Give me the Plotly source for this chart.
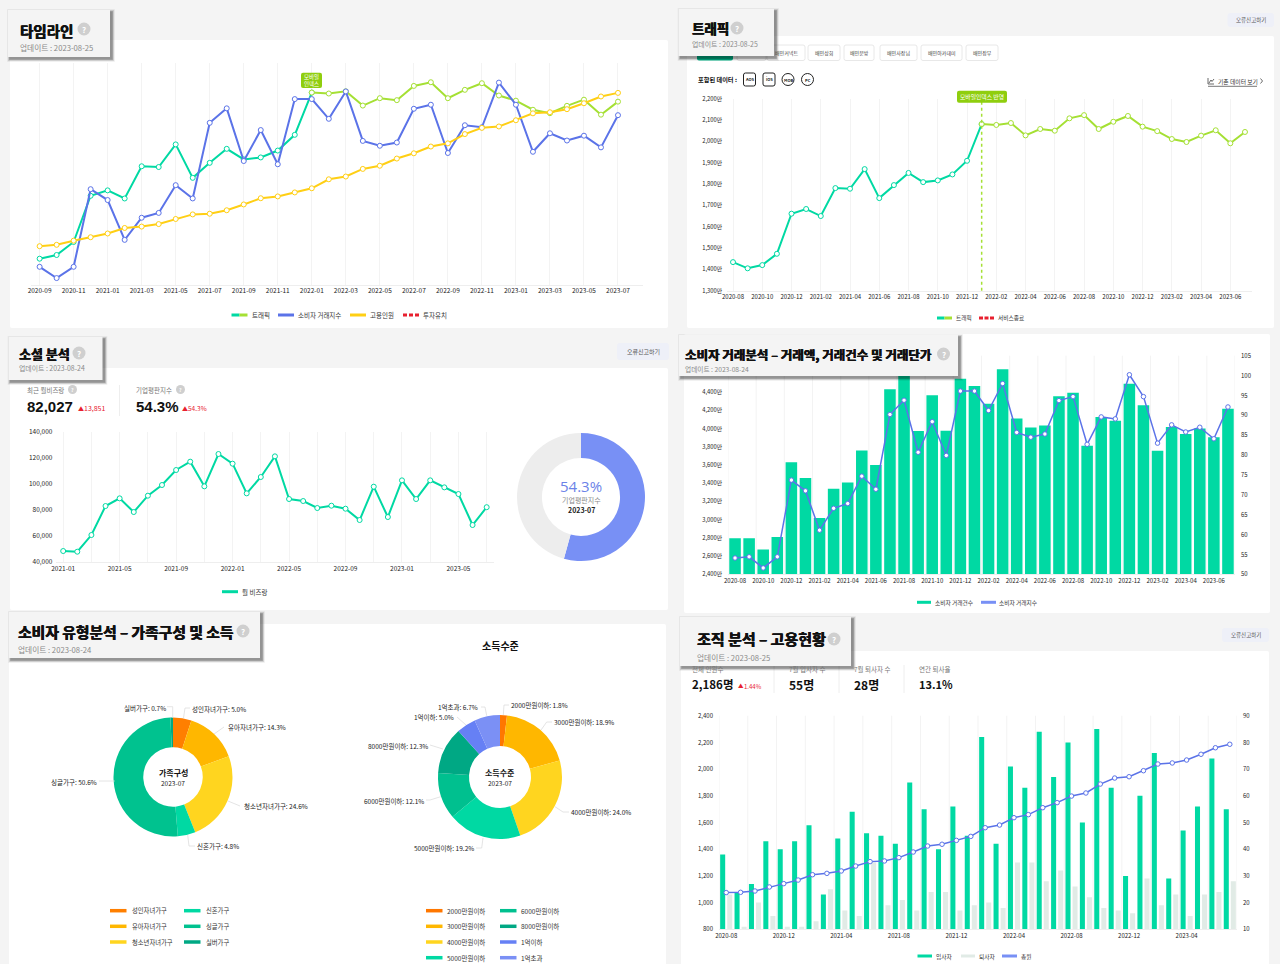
import plotly.graph_objects as go

# ---------- data ----------
months = ["2020-08","2020-09","2020-10","2020-11","2020-12","2021-01","2021-02","2021-03","2021-04","2021-05","2021-06","2021-07",
          "2021-08","2021-09","2021-10","2021-11","2021-12","2022-01","2022-02","2022-03","2022-04","2022-05","2022-06","2022-07",
          "2022-08","2022-09","2022-10","2022-11","2022-12","2023-01","2023-02","2023-03","2023-04","2023-05","2023-06","2023-07"]
traffic = [1434,1405,1420,1473,1661,1683,1650,1781,1778,1870,1734,1795,1852,1809,1817,1845,1909,2081,
           2077,2086,2028,2058,2050,2108,2123,2058,2092,2119,2069,2048,2011,1997,2027,2052,1991,2044]
tx_index = [54.1,54.4,51.6,54.4,73.7,71.0,61.1,66.6,67.8,74.7,71.4,90.2,93.8,80.7,88.4,79.9,96.1,96.1,
            91.2,98.0,85.7,84.5,85.3,93.7,94.7,82.7,89.6,89.1,100.2,94.7,83.0,87.6,85.8,87.0,84.1,92.1]
tx_count = [2795,2795,2671,2810,3629,3457,3018,3340,3409,3760,3599,4433,4605,3972,4367,3976,4546,4466,
            4272,4652,4111,4012,4034,4356,4393,3811,4126,4086,4491,4257,3756,4016,3939,4002,3906,4217]
headcount = [1075,1077,1087,1117,1142,1169,1209,1219,1237,1274,1307,1312,1337,1379,1424,1437,1466,1496,
             1561,1581,1636,1659,1711,1749,1798,1821,1888,1933,1943,1988,2038,2046,2068,2111,2160,2186]
hires = [38,24,27,43,40,43,49,23,44,54,46,45,42,65,55,40,56,45,82,42,71,63,84,67,80,50,85,63,30,60,76,29,47,56,74,55]
leavers = [23,11,20,15,11,11,13,25,17,15,35,19,21,17,24,24,17,19,20,18,35,35,28,32,26,22,18,17,16,29,19,23,15,23,24,28]
social_months = months[5:]
social = [48226,47712,60566,82931,88843,78303,90900,99126,110694,117120,98100,123033,115578,92699,105296,121234,
          88329,86787,81388,83188,80874,72134,97841,74447,102725,88329,102725,97326,92185,68278,82027]
reputation = [54.3, 45.7]
family_labels = ["성인자녀가구","유아자녀가구","청소년자녀가구","신혼가구","싱글가구","실버가구"]
family_values = [5.0,14.3,24.6,4.8,50.6,0.7]
income_labels = ["2000만원이하","3000만원이하","4000만원이하","5000만원이하","6000만원이하","8000만원이하","1억이하","1억초과"]
income_values = [1.8,18.9,24.0,19.2,12.1,12.3,5.0,6.7]

# ---------- styles ----------
W, H = 1280, 964
KR = "Noto Sans CJK KR"
BG = "#f4f4f4"
GREEN = "#00d9a3"; LIME = "#a5e034"; BLUE = "#5b73e8"; YELLOW = "#ffcf14"; RED = "#e8202f"
PERIWINKLE = "#7890f5"; GRID = "#f3f3f3"; LEAVE = "#e1ebe6"
family_colors = ["#ff7f00","#ffb700","#ffd51f","#00d9a3","#00c28f","#00a884"]
income_colors = ["#ff7700","#ffb700","#ffd51f","#00d9a3","#00c08f","#00a884","#6680f5","#7b90f5"]

fx = lambda p: p / W
fy = lambda p: 1 - p / H
shapes, ann, traces = [], [], []
layout_axes = {}

def rrect(x0, y0, x1, y1, fill, r=2, line=None, layer="below", lw=1):
    path = (f"M {fx(x0+r)} {fy(y0)} L {fx(x1-r)} {fy(y0)} Q {fx(x1)} {fy(y0)} {fx(x1)} {fy(y0+r)} "
            f"L {fx(x1)} {fy(y1-r)} Q {fx(x1)} {fy(y1)} {fx(x1-r)} {fy(y1)} "
            f"L {fx(x0+r)} {fy(y1)} Q {fx(x0)} {fy(y1)} {fx(x0)} {fy(y1-r)} "
            f"L {fx(x0)} {fy(y0+r)} Q {fx(x0)} {fy(y0)} {fx(x0+r)} {fy(y0)} Z")
    shapes.append(dict(type="path", xref="paper", yref="paper", path=path, fillcolor=fill, layer=layer,
                       line=dict(color=line or "rgba(0,0,0,0)", width=lw if line else 0)))

def rect(x0, y0, x1, y1, fill, layer="below"):
    shapes.append(dict(type="rect", xref="paper", yref="paper", x0=fx(x0), x1=fx(x1), y0=fy(y1), y1=fy(y0),
                       fillcolor=fill, line=dict(width=0), layer=layer))

def seg(pts, color, width=1, dash=None, layer="above"):
    path = "M " + " L ".join(f"{fx(a)} {fy(b)}" for a, b in pts)
    shapes.append(dict(type="path", xref="paper", yref="paper", path=path, layer=layer,
                       line=dict(color=color, width=width, dash=dash or "solid")))

def circle(cx, cy, r, fill, line=None, lw=1, layer="above"):
    shapes.append(dict(type="circle", xref="paper", yref="paper", x0=fx(cx-r), x1=fx(cx+r), y0=fy(cy+r), y1=fy(cy-r),
                       fillcolor=fill, line=dict(color=line or "rgba(0,0,0,0)", width=lw if line else 0), layer=layer))

def text(x, y, s, size=7, color="#333", bold=False, anchor="left", family=KR, shadow=None):
    t = f"<b>{s}</b>" if bold else s
    f = dict(family=family, size=size, color=color)
    if shadow:
        f["shadow"] = shadow
    ann.append(dict(xref="paper", yref="paper", x=fx(x), y=fy(y), text=t, showarrow=False, xanchor=anchor, yanchor="middle",
                    font=f, borderpad=0, borderwidth=0))

def legend_swatch(x0, x1, y, color, th=3):
    rect(x0, y - th/2, x1, y + th/2, color, layer="below")

def help_icon(cx, cy, r=7):
    circle(cx, cy, r, "#cfcfcf")
    text(cx, cy, "?", size=int(r*1.3), color="#ffffff", bold=True, anchor="center")

def header(x0, y0, x1, y1, title, date, tx, ty, dy, hx, hy, size=15, dsize=7.7):
    for d, a in ((6, 0.03), (5, 0.05), (4, 0.07), (3, 0.09), (2, 0.12), (1, 0.14)):
        rect(x0 + 2 - d/2, y0 + 2 - d/2, x1 + 2 + d/2, y1 + 2 + d/2, f"rgba(0,0,0,{a})", layer="above")
    rect(x0, y0, x1, y1, BG, layer="above")
    text(tx, ty, title, size=size, color="#111111", bold=True, shadow="0.4px 0 0 #111111, -0.3px 0 0 #111111")
    text(tx, dy, f"업데이트 : {date}", size=dsize, color="#8a8a8a")
    help_icon(hx, hy, 6.5)

def report_btn(x0, y0, x1, y1, size=5.5):
    rrect(x0, y0, x1, y1, "#eef0f8", r=3)
    text((x0+x1)/2, (y0+y1)/2, "오류신고하기", size=size, color="#555", anchor="center")

def x_axis(name, ynm, l, r, b, cats, tickcats, labels, rng, grid=True, size=6.5):
    layout_axes[name] = dict(type="category", categoryorder="array", categoryarray=cats, domain=[fx(l), fx(r)], anchor=ynm, automargin=False,
                             range=rng, tickmode="array", tickvals=tickcats, ticktext=labels, showgrid=grid, gridcolor=GRID, gridwidth=1,
                             showline=True, linecolor="#eeeeee", linewidth=1, ticks="", tickangle=0, zeroline=False,
                             tickfont=dict(family=KR, size=size, color="#222222"), fixedrange=True)

def y_axis(name, xnm, t, b, rng, vals=None, labels=None, side="left", overlay=None, visible=True, standoff=4, size=6.5):
    d = dict(domain=[fy(b), fy(t)], anchor=xnm, range=rng, side=side, showgrid=False, zeroline=False, showline=False, ticks="",
             fixedrange=True, visible=visible, automargin=False)
    if vals is not None:
        d.update(tickmode="array", tickvals=vals, ticktext=labels, ticklabelstandoff=standoff,
                 tickfont=dict(family=KR, size=size, color="#222222"))
    if overlay:
        d["overlaying"] = overlay
    layout_axes[name] = d

def line(x, y, color, xa, ya, width=2, ms=5):
    traces.append(go.Scatter(x=x, y=y, mode="lines+markers", xaxis=xa, yaxis=ya, showlegend=False, hoverinfo="skip",
                             line=dict(color=color, width=width),
                             marker=dict(size=ms, color="#ffffff", line=dict(color=color, width=1))))

def vgrid(xa, idxs, top, bottom):
    for i in idxs:
        shapes.append(dict(type="line", xref=xa, yref="paper", x0=i-0.5, x1=i-0.5, y0=fy(bottom), y1=fy(top),
                           line=dict(color=GRID, width=1), layer="below"))

# ---------- cards ----------
rrect(10, 40, 668, 328, "#ffffff")
rrect(687, 36, 1274, 328, "#ffffff")
rrect(10, 368, 668, 610, "#ffffff")
rrect(684, 334, 1270, 613, "#ffffff")
rrect(9, 624, 666, 970, "#ffffff")
rrect(681, 651, 1269, 970, "#ffffff")

# ---------- 1. timeline ----------
m1 = months[1:]
tk1 = m1[0::2]
x_axis("xaxis", "y", 31.1, 643, 284.5, m1, tk1, tk1, [-0.5, 35.47])
y_axis("yaxis", "x", 63.3, 284.5, [1300, 2200], visible=False)
y_axis("yaxis2", "x", 63.3, 284.5, [50, 105], overlay="y", visible=False)
y_axis("yaxis3", "x", 63.3, 284.5, [800, 2400], overlay="y", visible=False)
line(m1[:17], traffic[1:18], GREEN, "x", "y")
line(m1[16:], traffic[17:], LIME, "x", "y")
line(m1, tx_index[1:], BLUE, "x", "y2")
line(m1, headcount[1:], YELLOW, "x", "y3")
rrect(301, 72.7, 322, 88, "#8fce0e", r=2, layer="above")
text(311.5, 80.3, "모바일<br>인덱스", size=5.5, color="#ffffff", anchor="center")
legend_swatch(231.5, 239.5, 315, GREEN); legend_swatch(239.5, 247.5, 315, LIME)
text(252, 315, "트래픽", size=6.5)
legend_swatch(278, 294, 315, BLUE); text(298.4, 315, "소비자 거래지수", size=6.5)
legend_swatch(350, 366, 315, YELLOW); text(370, 315, "고용인원", size=6.5)
seg([(403, 315), (419, 315)], RED, 3, "4px,2px", layer="below"); text(423, 315, "투자유치", size=6.5)
header(8, 10, 110, 57, "타임라인", "2023-08-25", 20, 30, 47, 84, 29, size=14.5)

# ---------- 2. traffic ----------
tk2 = months[0::2]
x_axis("xaxis2", "y4", 727, 1252, 290.7, months, tk2, tk2, [-0.41, 35.48], size=6)
yv2 = list(range(1300, 2300, 100))
y_axis("yaxis4", "x2", 98.7, 290.7, [1300, 2200], yv2, [f"{v:,}만" for v in yv2], size=5.8)
line(months[:18], traffic[:18], GREEN, "x2", "y4")
line(months[17:], traffic[17:], LIME, "x2", "y4")
shapes.append(dict(type="line", xref="x2", yref="paper", x0="2022-01", x1="2022-01", y0=fy(290.7), y1=fy(102),
                   line=dict(color=LIME, width=1.5, dash="dot"), layer="above"))
rrect(957, 90.7, 1007, 102.7, "#8fce0e", r=2, layer="above")
text(982, 96.7, "모바일인덱스 반영", size=5.8, color="#ffffff", anchor="center")
rrect(697, 44, 733, 60.5, "#00b58a", r=2, layer="below")
rrect(737, 45, 766, 60.5, "#ffffff", r=2, line="#e8e8e8", layer="below")
for x0, x1, name in [(767,805,"배민커넥트"),(808,840,"배민상회"),(844,874,"배민문방"),(880,917,"배민사장님"),(921,962,"배민아카데미"),(966,998,"배민장부")]:
    rrect(x0, 45, x1, 60.5, "#ffffff", r=2, line="#e8e8e8", layer="below")
    text((x0+x1)/2, 53, name, size=5, color="#444", anchor="center")
text(698, 79, "포함된 데이터 :", size=6.2, color="#111", bold=True)
for cx, lab in ((749.5,"AOS"),(769,"iOS")):
    rrect(cx-6, 73, cx+6, 86, "#ffffff", r=2, line="#222", layer="below", lw=1)
    text(cx, 79, lab, size=4, color="#111", bold=True, anchor="center")
for cx, lab in ((788,"MOB"),(807.5,"PC")):
    circle(cx, 79.5, 6, "#ffffff", line="#222", lw=1, layer="below")
    text(cx, 79.5, lab, size=4, color="#111", bold=True, anchor="center")
text(1218, 81, "기존 데이터 보기", size=5.8, color="#333")
seg([(1208,78),(1208,84),(1214,84)], "#444", 0.8)
seg([(1209,83),(1211,80),(1212,81.5),(1214,79)], "#444", 0.8)
seg([(1208,86.3),(1257,86.3)], "#777", 1)
seg([(1260.5,78.5),(1262.5,81),(1260.5,83.5)], "#444", 0.8)
legend_swatch(937, 944.5, 318, GREEN); legend_swatch(944.5, 952, 318, LIME)
text(955.5, 318, "트래픽", size=5.7)
seg([(979,318),(994,318)], RED, 3, "4px,1.5px", layer="below"); text(997.5, 318, "서비스종료", size=5.7)
header(678.5, 9, 774, 56, "트래픽", "2023-08-25", 692, 28, 44, 737, 28, size=13.5, dsize=6.9)
report_btn(1227.5, 13, 1274, 27)

# ---------- 3. social ----------
tk3 = social_months[0::2]
tl3 = [m if i % 2 == 0 else "" for i, m in enumerate(tk3)]
x_axis("xaxis3", "y5", 56.4, 493.6, 561.7, social_months, tk3, tl3, [-0.48, 30.49])
yv3 = list(range(40000, 160000, 20000))
y_axis("yaxis5", "x3", 432, 561.7, [40000, 140000], yv3, [f"{v:,}" for v in yv3], standoff=3)
line(social_months, social, GREEN, "x3", "y5")
legend_swatch(222, 238, 591.7, GREEN); text(242, 591.7, "월 비즈랑", size=6.5)
text(27, 390, "최근 월비즈랑", size=6.5, color="#777")
help_icon(72.5, 389.5, 4.5)
text(27, 406, "82,027", size=15, color="#111", bold=True, family="Liberation Sans")
text(77.5, 408, "▲", size=6, color=RED); text(84, 408, "13,851", size=7, color=RED)
seg([(119.5,385),(119.5,416)], "#eeeeee", 1, layer="below")
text(136, 390, "기업평판지수", size=6.5, color="#777")
help_icon(180.5, 389.5, 4.5)
text(136, 406, "54.3%", size=15, color="#111", bold=True, family="Liberation Sans")
text(181.5, 408, "▲", size=6, color=RED); text(188, 408, "54.3%", size=6.5, color=RED)
traces.append(go.Pie(values=reputation, labels=["기업평판지수", "기타"], hole=0.61, sort=False, direction="clockwise", rotation=0,
                     marker=dict(colors=[PERIWINKLE, "#ededed"], line=dict(width=0)), textinfo="none", hoverinfo="skip", showlegend=False,
                     domain=dict(x=[fx(581-65), fx(581+65)], y=[fy(497+64), fy(497-64)])))
text(581, 486, "54.3%", size=15, color="#6b83e8", anchor="center", family="Open Sans")
text(581, 500, "기업평판지수", size=7, color="#8a8a8a", anchor="center")
text(581, 510, "2023-07", size=7, color="#222", bold=True, anchor="center")
header(8.5, 337, 102.5, 380, "소셜 분석", "2023-08-24", 19, 353, 368, 79, 353, size=13, dsize=6.9)
report_btn(617, 343, 669, 360, size=6)

# ---------- 4. transactions ----------
tk4 = months[0::2]
x_axis("xaxis4", "y6", 728, 1235, 574.3, months, tk4, tk4, [-0.5, 35.5], grid=False, size=6)
yv4 = list(range(2400, 4600, 200))
y_axis("yaxis6", "x4", 355.7, 574.3, [2400, 4800], yv4, [f"{v:,}만" for v in yv4], standoff=5, size=5.8)
yv4b = list(range(50, 110, 5))
y_axis("yaxis7", "x4", 355.7, 574.3, [50, 105], yv4b, [str(v) for v in yv4b], side="right", overlay="y6", standoff=5, size=6)
vgrid("x4", range(0, 37, 2), 355.7, 574.3)
traces.append(go.Bar(x=months, y=tx_count, xaxis="x4", yaxis="y6", width=0.82, offset=-0.41, marker=dict(color=GREEN, line=dict(width=0)),
                     showlegend=False, hoverinfo="skip"))
line(months, tx_index, BLUE, "x4", "y7", width=1.5, ms=4.5)
legend_swatch(917, 931, 602.3, GREEN); text(935, 602.3, "소비자 거래건수", size=5.7)
legend_swatch(981, 996, 602.3, PERIWINKLE); text(999, 602.3, "소비자 거래지수", size=5.7)
header(679, 335, 958, 376, "소비자 거래분석 – 거래액, 거래건수 및 거래단가", "2023-08-24", 685, 354, 369, 943.5, 354, size=12.5, dsize=6.7)

# ---------- 5. consumer segments ----------
traces.append(go.Pie(values=family_values, labels=family_labels, hole=0.5, sort=False, direction="clockwise", rotation=0,
                     marker=dict(colors=family_colors, line=dict(width=0)), textinfo="none", hoverinfo="skip", showlegend=False,
                     domain=dict(x=[fx(173-59.5), fx(173+59.5)], y=[fy(777+59.5), fy(777-59.5)])))
traces.append(go.Pie(values=income_values, labels=income_labels, hole=0.5, sort=False, direction="clockwise", rotation=0,
                     marker=dict(colors=income_colors, line=dict(width=0)), textinfo="none", hoverinfo="skip", showlegend=False,
                     domain=dict(x=[fx(500-62), fx(500+62)], y=[fy(777+62), fy(777-62)])))
text(173, 772, "가족구성", size=8, color="#111", bold=True, anchor="center")
text(173, 783, "2023-07", size=6.5, color="#222", anchor="center")
text(500, 772, "소득수준", size=8, color="#111", bold=True, anchor="center")
text(500, 783, "2023-07", size=6.5, color="#222", anchor="center")
text(500.5, 645.7, "소득수준", size=10, color="#111", bold=True, anchor="center")

family_callouts = [
    (0, [(183.5,718),(185,708),(190,708)], 191.7, 709.3, "left"),
    (1, [(214,734),(224,727)], 228, 727, "left"),
    (2, [(228,801),(240,806)], 244, 806, "left"),
    (3, [(187.7,835),(189,846),(195,846)], 196.7, 846, "left"),
    (4, [(114.7,781),(99,781)], 96.7, 782, "right"),
    (5, [(172.7,717.7),(172.7,706.7),(167,706.7)], 166, 708, "right"),
]
for i, pts, tx, ty, anc in family_callouts:
    seg(pts, "#dddddd", 0.8)
    text(tx, ty, f"{family_labels[i]}: {family_values[i]:.1f}%", size=6.5, color="#222", anchor=anc)
income_callouts = [
    (0, [(503.3,715),(504,705),(509,705)], 511, 705.3, "left"),
    (1, [(541,730),(546.7,722),(552,722)], 554, 722, "left"),
    (2, [(555,806.7),(563,812),(569,812)], 571, 812, "left"),
    (3, [(483,838),(481.7,848),(476,848)], 473.7, 848, "right"),
    (4, [(440.7,796.7),(430,800),(426,800)], 424, 800.7, "right"),
    (5, [(443,749),(430,745)], 427.7, 746.3, "right"),
    (6, [(466,725),(457,717)], 453.7, 717, "right"),
    (7, [(486.7,715.7),(485,707),(481,707)], 478, 707, "right"),
]
for i, pts, tx, ty, anc in income_callouts:
    seg(pts, "#dddddd", 0.8)
    text(tx, ty, f"{income_labels[i]}: {income_values[i]:.1f}%", size=6.5, color="#222", anchor=anc)

rows = [910.7, 926.3, 942, 957.7]
for i, (lab, col) in enumerate(zip(family_labels, family_colors)):
    x0 = 110 if i < 3 else 184
    y = rows[i % 3]
    legend_swatch(x0, x0+16.5, y, col, th=3.5)
    text(x0+21.5, y, lab, size=6.3)
for i, (lab, col) in enumerate(zip(income_labels, income_colors)):
    x0 = 426 if i < 4 else 500
    y = rows[i % 4]
    legend_swatch(x0, x0+16.5, y, col, th=3.5)
    text(x0+21, y, lab, size=6.5)
header(9, 612, 260, 658, "소비자 유형분석 – 가족구성 및 소득", "2023-08-24", 18, 631, 649, 243, 631, size=14.8)

# ---------- 6. organisation ----------
tk6 = months[0::4]
x_axis("xaxis5", "y8", 719, 1237, 929.3, months, tk6, tk6, [-0.5, 35.5], grid=False, size=6)
yv6r = list(range(10, 100, 10))
y_axis("yaxis8", "x5", 715.7, 929.3, [10, 90], yv6r, [str(v) for v in yv6r], side="right", standoff=5, size=6)
yv6 = list(range(800, 2600, 200))
y_axis("yaxis9", "x5", 715.7, 929.3, [800, 2400], yv6, [f"{v:,}" for v in yv6], side="left", overlay="y8", standoff=5, size=6)
vgrid("x5", range(0, 37, 2), 715.7, 929.3)
traces.append(go.Bar(x=months, y=hires, xaxis="x5", yaxis="y8", width=0.35, offset=-0.42, marker=dict(color=GREEN, line=dict(width=0)),
                     showlegend=False, hoverinfo="skip"))
traces.append(go.Bar(x=months, y=leavers, xaxis="x5", yaxis="y8", width=0.35, offset=0.07, marker=dict(color=LEAVE, line=dict(width=0)),
                     showlegend=False, hoverinfo="skip"))
line(months, headcount, BLUE, "x5", "y9", width=1.5, ms=4.5)
legend_swatch(917.5, 932, 956, GREEN); text(936, 956, "입사자", size=5.7)
legend_swatch(961, 975, 956, LEAVE); text(978.5, 956, "퇴사자", size=5.7)
legend_swatch(1002, 1017, 956, PERIWINKLE); text(1020.5, 956, "총원", size=5.7)
for xd in (774, 839, 904):
    seg([(xd,665),(xd,693)], "#eeeeee", 1, layer="below")
text(691.5, 669, "전체 인원수", size=6.5, color="#777")
text(691.5, 684.3, "2,186명", size=11.5, color="#111", bold=True)
text(738, 686, "▲", size=5.5, color=RED); text(743.5, 686, "1.44%", size=6, color=RED)
text(789, 669, "7월 입사자 수", size=6.5, color="#777")
text(789, 684.3, "55명", size=12, color="#111", bold=True)
text(854, 669, "7월 퇴사자 수", size=6.5, color="#777")
text(854, 684.3, "28명", size=12, color="#111", bold=True)
text(918.5, 669, "연간 퇴사율", size=6.5, color="#777")
text(918.5, 684.3, "13.1%", size=11, color="#111", bold=True)
header(680, 617, 851, 666, "조직 분석 – 고용현황", "2023-08-25", 697, 638, 657, 834, 639, size=15)
report_btn(1222, 628, 1269, 642)

fig = go.Figure(data=traces)
fig.update_layout(width=W, height=H, autosize=False, margin=dict(l=0, r=0, t=0, b=0), paper_bgcolor=BG, plot_bgcolor="rgba(0,0,0,0)",
                  showlegend=False, shapes=shapes, annotations=ann, barmode="overlay", font=dict(family=KR), **layout_axes)
fig.write_html("out.html", config={"displayModeBar": False},
               post_script="document.body.style.margin='0';document.body.style.background='#f4f4f4';document.documentElement.style.overflow='hidden';")
